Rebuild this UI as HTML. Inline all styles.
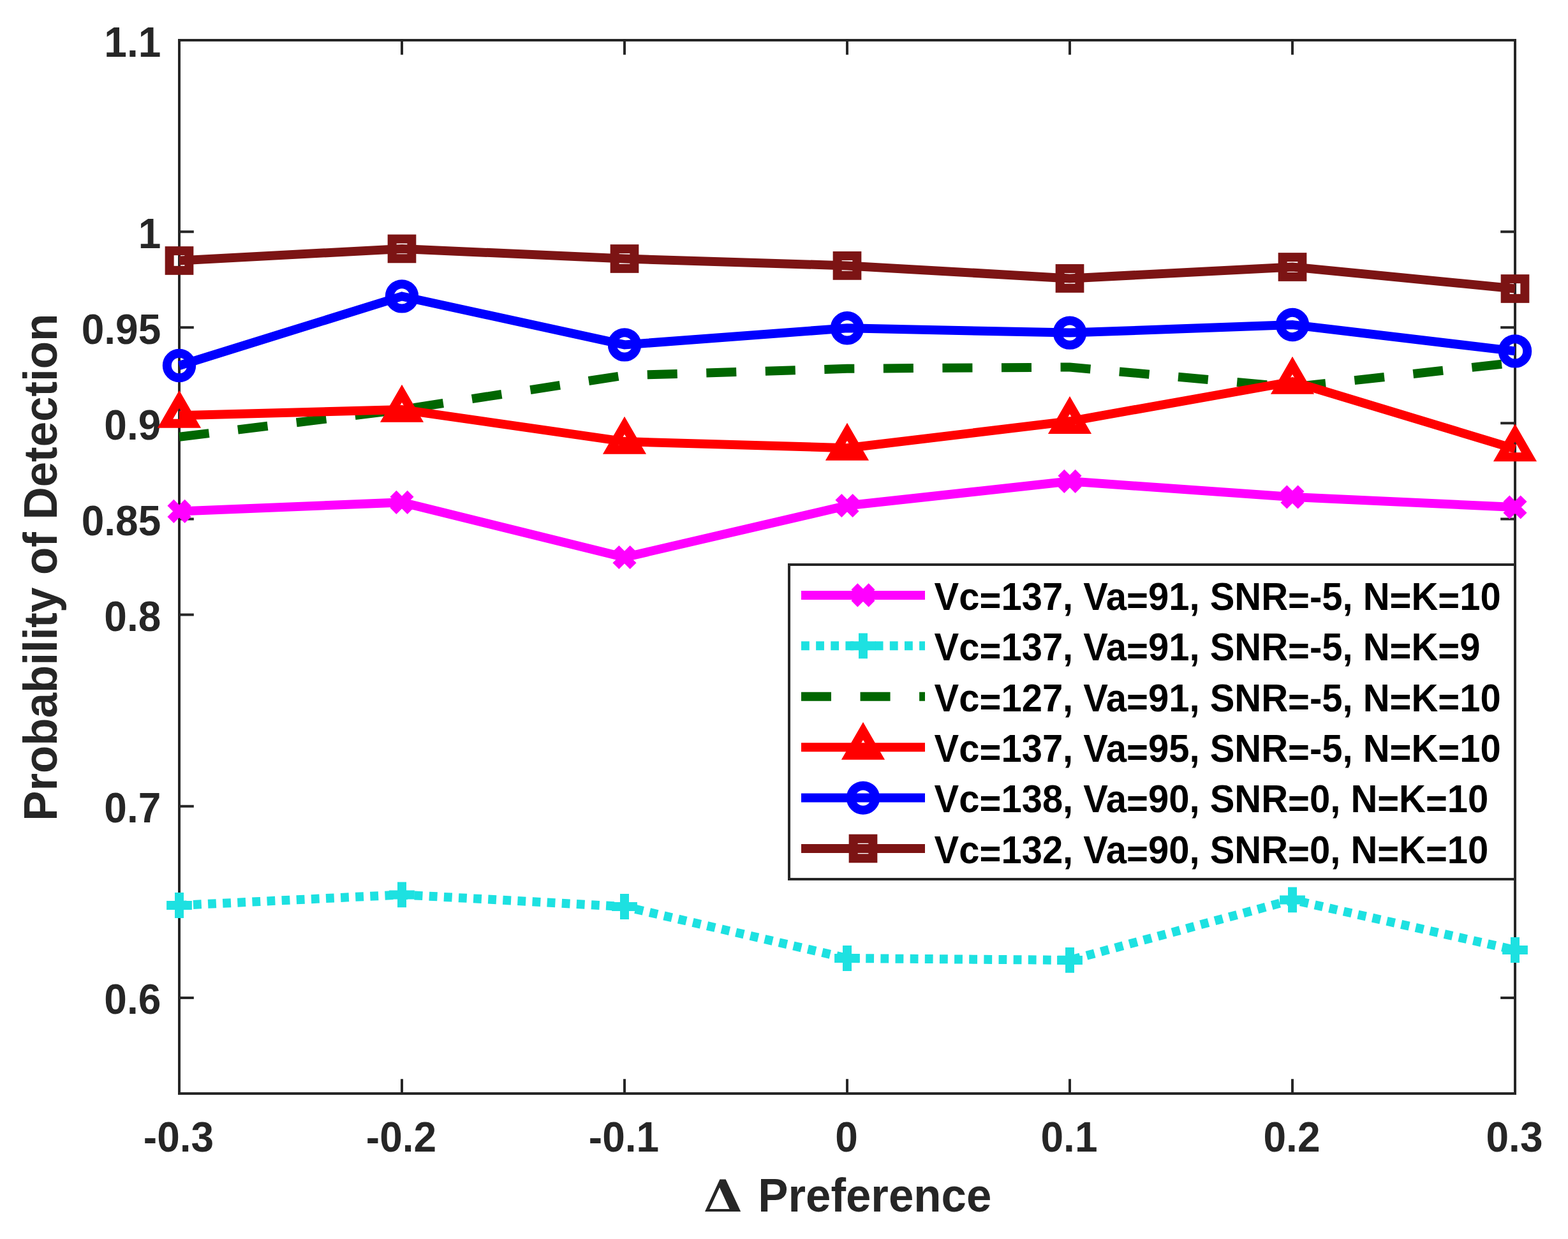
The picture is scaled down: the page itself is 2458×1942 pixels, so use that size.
<!DOCTYPE html><html><head><meta charset="utf-8"><style>html,body{margin:0;padding:0;background:#fff;width:2458px;height:1942px;}svg{display:block;}text{font-family:"Liberation Sans",Arial,Helvetica,sans-serif;font-weight:bold;}</style></head><body>
<svg width="2458" height="1942" viewBox="0 0 2458 1942">
<rect x="0" y="0" width="2458" height="1942" fill="#fff"/>
<rect x="281" y="63" width="2094" height="1651" fill="none" stroke="#262626" stroke-width="4"/>
<path d="M281 1714V1691.2M281 63V85.8M630 1714V1691.2M630 63V85.8M979 1714V1691.2M979 63V85.8M1328 1714V1691.2M1328 63V85.8M1677 1714V1691.2M1677 63V85.8M2026 1714V1691.2M2026 63V85.8M2375 1714V1691.2M2375 63V85.8M281 1563.9H303.8M2375 1563.9H2352.2M281 1263.72H303.8M2375 1263.72H2352.2M281 963.54H303.8M2375 963.54H2352.2M281 813.45H303.8M2375 813.45H2352.2M281 663.36H303.8M2375 663.36H2352.2M281 513.27H303.8M2375 513.27H2352.2M281 363.18H303.8M2375 363.18H2352.2M281 63H303.8M2375 63H2352.2" stroke="#262626" stroke-width="4" fill="none"/>
<text transform="matrix(1 0 0 1.038 280 1805.2)" font-size="64" fill="#262626" text-anchor="middle">-0.3</text>
<text transform="matrix(1 0 0 1.038 629 1805.2)" font-size="64" fill="#262626" text-anchor="middle">-0.2</text>
<text transform="matrix(1 0 0 1.038 978 1805.2)" font-size="64" fill="#262626" text-anchor="middle">-0.1</text>
<text transform="matrix(1 0 0 1.038 1327 1805.2)" font-size="64" fill="#262626" text-anchor="middle">0</text>
<text transform="matrix(1 0 0 1.038 1676 1805.2)" font-size="64" fill="#262626" text-anchor="middle">0.1</text>
<text transform="matrix(1 0 0 1.038 2025 1805.2)" font-size="64" fill="#262626" text-anchor="middle">0.2</text>
<text transform="matrix(1 0 0 1.038 2374 1805.2)" font-size="64" fill="#262626" text-anchor="middle">0.3</text>
<text transform="matrix(1 0 0 1.038 252.3 1589.4)" font-size="64" fill="#262626" text-anchor="end">0.6</text>
<text transform="matrix(1 0 0 1.038 252.3 1289.22)" font-size="64" fill="#262626" text-anchor="end">0.7</text>
<text transform="matrix(1 0 0 1.038 252.3 989.04)" font-size="64" fill="#262626" text-anchor="end">0.8</text>
<text transform="matrix(1 0 0 1.038 252.3 838.95)" font-size="64" fill="#262626" text-anchor="end">0.85</text>
<text transform="matrix(1 0 0 1.038 252.3 688.86)" font-size="64" fill="#262626" text-anchor="end">0.9</text>
<text transform="matrix(1 0 0 1.038 252.3 538.77)" font-size="64" fill="#262626" text-anchor="end">0.95</text>
<text transform="matrix(1 0 0 1.038 252.3 388.68)" font-size="64" fill="#262626" text-anchor="end">1</text>
<text transform="matrix(1 0 0 1.038 252.3 88.5)" font-size="64" fill="#262626" text-anchor="end">1.1</text>
<text transform="matrix(1.155 0 0 1.023 1105 1898.9)" x="-2" y="0" font-size="68.2" style="font-family:&quot;DejaVu Serif&quot;,serif;font-weight:bold" fill="#262626">&#916;</text>
<text transform="matrix(1 0 0 1.045 1188.26 1898.9)" font-size="70.8" fill="#262626">Preference</text>
<text transform="matrix(0 -1 1.045 0 89 889.2)" font-size="70.85" fill="#262626" text-anchor="middle">Probability of Detection</text>
<polyline points="281,801.4 630,787.4 979,873.5 1328,792.5 1677,754.4 2026,779 2375,795" stroke="#ff00ff" stroke-width="14" fill="none" stroke-linejoin="miter"/>
<path d="M267.4 787.8L294.6 815M267.4 815L294.6 787.8" stroke="#ff00ff" stroke-width="14" fill="none"/>
<path d="M616.4 773.8L643.6 801M616.4 801L643.6 773.8" stroke="#ff00ff" stroke-width="14" fill="none"/>
<path d="M965.4 859.9L992.6 887.1M965.4 887.1L992.6 859.9" stroke="#ff00ff" stroke-width="14" fill="none"/>
<path d="M1314.4 778.9L1341.6 806.1M1314.4 806.1L1341.6 778.9" stroke="#ff00ff" stroke-width="14" fill="none"/>
<path d="M1663.4 740.8L1690.6 768M1663.4 768L1690.6 740.8" stroke="#ff00ff" stroke-width="14" fill="none"/>
<path d="M2012.4 765.4L2039.6 792.6M2012.4 792.6L2039.6 765.4" stroke="#ff00ff" stroke-width="14" fill="none"/>
<path d="M2361.4 781.4L2388.6 808.6M2361.4 808.6L2388.6 781.4" stroke="#ff00ff" stroke-width="14" fill="none"/>
<polyline points="281,1419 630,1402.4 979,1421 1328,1502 1677,1504.9 2026,1410.4 2375,1489" stroke="#1de1e1" stroke-width="14" fill="none" stroke-linejoin="miter" stroke-dasharray="12.8 10.34" stroke-dashoffset="1.15"/>
<path d="M261.1 1419L300.9 1419M281 1399.1L281 1438.9" stroke="#1de1e1" stroke-width="14" fill="none"/>
<path d="M610.1 1402.4L649.9 1402.4M630 1382.5L630 1422.3" stroke="#1de1e1" stroke-width="14" fill="none"/>
<path d="M959.1 1421L998.9 1421M979 1401.1L979 1440.9" stroke="#1de1e1" stroke-width="14" fill="none"/>
<path d="M1308.1 1502L1347.9 1502M1328 1482.1L1328 1521.9" stroke="#1de1e1" stroke-width="14" fill="none"/>
<path d="M1657.1 1504.9L1696.9 1504.9M1677 1485L1677 1524.8" stroke="#1de1e1" stroke-width="14" fill="none"/>
<path d="M2006.1 1410.4L2045.9 1410.4M2026 1390.5L2026 1430.3" stroke="#1de1e1" stroke-width="14" fill="none"/>
<path d="M2355.1 1489L2394.9 1489M2375 1469.1L2375 1508.9" stroke="#1de1e1" stroke-width="14" fill="none"/>
<polyline points="281,684.8 630,642 979,588.4 1328,577.8 1677,575.5 2026,606.8 2375,568.4" stroke="#006600" stroke-width="14" fill="none" stroke-linejoin="miter" stroke-dasharray="47 45.56"/>







<polyline points="281,651.2 630,642.1 979,692.1 1328,702.2 1677,660.3 2026,598.1 2375,703.6" stroke="#ff0000" stroke-width="14" fill="none" stroke-linejoin="miter"/>
<polygon points="281,625.85 302.95,663.87 259.05,663.87" stroke="#ff0000" stroke-width="14" fill="none" stroke-linejoin="miter" stroke-miterlimit="10"/>
<polygon points="630,616.75 651.95,654.77 608.05,654.77" stroke="#ff0000" stroke-width="14" fill="none" stroke-linejoin="miter" stroke-miterlimit="10"/>
<polygon points="979,666.75 1000.95,704.77 957.05,704.77" stroke="#ff0000" stroke-width="14" fill="none" stroke-linejoin="miter" stroke-miterlimit="10"/>
<polygon points="1328,676.85 1349.95,714.87 1306.05,714.87" stroke="#ff0000" stroke-width="14" fill="none" stroke-linejoin="miter" stroke-miterlimit="10"/>
<polygon points="1677,634.95 1698.95,672.97 1655.05,672.97" stroke="#ff0000" stroke-width="14" fill="none" stroke-linejoin="miter" stroke-miterlimit="10"/>
<polygon points="2026,572.75 2047.95,610.77 2004.05,610.77" stroke="#ff0000" stroke-width="14" fill="none" stroke-linejoin="miter" stroke-miterlimit="10"/>
<polygon points="2375,678.25 2396.95,716.27 2353.05,716.27" stroke="#ff0000" stroke-width="14" fill="none" stroke-linejoin="miter" stroke-miterlimit="10"/>
<polyline points="281,573 630,464.4 979,540.4 1328,514.3 1677,521.6 2026,509 2375,550.4" stroke="#0000ff" stroke-width="14" fill="none" stroke-linejoin="miter"/>
<circle cx="281" cy="573" r="19.2" stroke="#0000ff" stroke-width="14" fill="none"/>
<circle cx="630" cy="464.4" r="19.2" stroke="#0000ff" stroke-width="14" fill="none"/>
<circle cx="979" cy="540.4" r="19.2" stroke="#0000ff" stroke-width="14" fill="none"/>
<circle cx="1328" cy="514.3" r="19.2" stroke="#0000ff" stroke-width="14" fill="none"/>
<circle cx="1677" cy="521.6" r="19.2" stroke="#0000ff" stroke-width="14" fill="none"/>
<circle cx="2026" cy="509" r="19.2" stroke="#0000ff" stroke-width="14" fill="none"/>
<circle cx="2375" cy="550.4" r="19.2" stroke="#0000ff" stroke-width="14" fill="none"/>
<polyline points="281,408.5 630,389.9 979,405.5 1328,416.4 1677,436.4 2026,418.5 2375,452.5" stroke="#7c1414" stroke-width="14" fill="none" stroke-linejoin="miter"/>
<rect x="265.65" y="393.15" width="30.7" height="30.7" stroke="#7c1414" stroke-width="14" fill="none"/>
<rect x="614.65" y="374.55" width="30.7" height="30.7" stroke="#7c1414" stroke-width="14" fill="none"/>
<rect x="963.65" y="390.15" width="30.7" height="30.7" stroke="#7c1414" stroke-width="14" fill="none"/>
<rect x="1312.65" y="401.05" width="30.7" height="30.7" stroke="#7c1414" stroke-width="14" fill="none"/>
<rect x="1661.65" y="421.05" width="30.7" height="30.7" stroke="#7c1414" stroke-width="14" fill="none"/>
<rect x="2010.65" y="403.15" width="30.7" height="30.7" stroke="#7c1414" stroke-width="14" fill="none"/>
<rect x="2359.65" y="437.15" width="30.7" height="30.7" stroke="#7c1414" stroke-width="14" fill="none"/>
<rect x="1237" y="885" width="1138" height="493" fill="#fff" stroke="#262626" stroke-width="4"/>
<path d="M1256 932.9H1450" stroke="#ff00ff" stroke-width="14" fill="none"/>
<path d="M1339.4 919.3L1366.6 946.5M1339.4 946.5L1366.6 919.3" stroke="#ff00ff" stroke-width="14" fill="none"/>
<text transform="matrix(1 0 0 1.045 1464.6 955.8)" font-size="58" fill="#000">Vc<tspan dy="6">=</tspan><tspan dy="-6">137, Va</tspan><tspan dy="6">=</tspan><tspan dy="-6">91, SNR</tspan><tspan dy="6">=</tspan><tspan dy="-6">-5, N</tspan><tspan dy="6">=</tspan><tspan dy="-6">K</tspan><tspan dy="6">=</tspan><tspan dy="-6">10</tspan></text>
<path d="M1256 1012.32H1450" stroke="#1de1e1" stroke-width="14" fill="none" stroke-dasharray="12.8 10.34"/>
<path d="M1333.1 1012.32L1372.9 1012.32M1353 992.42L1353 1032.22" stroke="#1de1e1" stroke-width="14" fill="none"/>
<text transform="matrix(1 0 0 1.045 1464.6 1035.22)" font-size="58" fill="#000">Vc<tspan dy="6">=</tspan><tspan dy="-6">137, Va</tspan><tspan dy="6">=</tspan><tspan dy="-6">91, SNR</tspan><tspan dy="6">=</tspan><tspan dy="-6">-5, N</tspan><tspan dy="6">=</tspan><tspan dy="-6">K</tspan><tspan dy="6">=</tspan><tspan dy="-6">9</tspan></text>
<path d="M1256 1091.74H1450" stroke="#006600" stroke-width="14" fill="none" stroke-dasharray="47 45.56"/>

<text transform="matrix(1 0 0 1.045 1464.6 1114.64)" font-size="58" fill="#000">Vc<tspan dy="6">=</tspan><tspan dy="-6">127, Va</tspan><tspan dy="6">=</tspan><tspan dy="-6">91, SNR</tspan><tspan dy="6">=</tspan><tspan dy="-6">-5, N</tspan><tspan dy="6">=</tspan><tspan dy="-6">K</tspan><tspan dy="6">=</tspan><tspan dy="-6">10</tspan></text>
<path d="M1256 1171.16H1450" stroke="#ff0000" stroke-width="14" fill="none"/>
<polygon points="1353,1145.81 1374.95,1183.83 1331.05,1183.83" stroke="#ff0000" stroke-width="14" fill="none" stroke-linejoin="miter" stroke-miterlimit="10"/>
<text transform="matrix(1 0 0 1.045 1464.6 1194.06)" font-size="58" fill="#000">Vc<tspan dy="6">=</tspan><tspan dy="-6">137, Va</tspan><tspan dy="6">=</tspan><tspan dy="-6">95, SNR</tspan><tspan dy="6">=</tspan><tspan dy="-6">-5, N</tspan><tspan dy="6">=</tspan><tspan dy="-6">K</tspan><tspan dy="6">=</tspan><tspan dy="-6">10</tspan></text>
<path d="M1256 1250.58H1450" stroke="#0000ff" stroke-width="14" fill="none"/>
<circle cx="1353" cy="1250.58" r="19.2" stroke="#0000ff" stroke-width="14" fill="none"/>
<text transform="matrix(1 0 0 1.045 1464.6 1273.48)" font-size="58" fill="#000">Vc<tspan dy="6">=</tspan><tspan dy="-6">138, Va</tspan><tspan dy="6">=</tspan><tspan dy="-6">90, SNR</tspan><tspan dy="6">=</tspan><tspan dy="-6">0, N</tspan><tspan dy="6">=</tspan><tspan dy="-6">K</tspan><tspan dy="6">=</tspan><tspan dy="-6">10</tspan></text>
<path d="M1256 1330H1450" stroke="#7c1414" stroke-width="14" fill="none"/>
<rect x="1337.65" y="1314.65" width="30.7" height="30.7" stroke="#7c1414" stroke-width="14" fill="none"/>
<text transform="matrix(1 0 0 1.045 1464.6 1352.9)" font-size="58" fill="#000">Vc<tspan dy="6">=</tspan><tspan dy="-6">132, Va</tspan><tspan dy="6">=</tspan><tspan dy="-6">90, SNR</tspan><tspan dy="6">=</tspan><tspan dy="-6">0, N</tspan><tspan dy="6">=</tspan><tspan dy="-6">K</tspan><tspan dy="6">=</tspan><tspan dy="-6">10</tspan></text>
</svg></body></html>
